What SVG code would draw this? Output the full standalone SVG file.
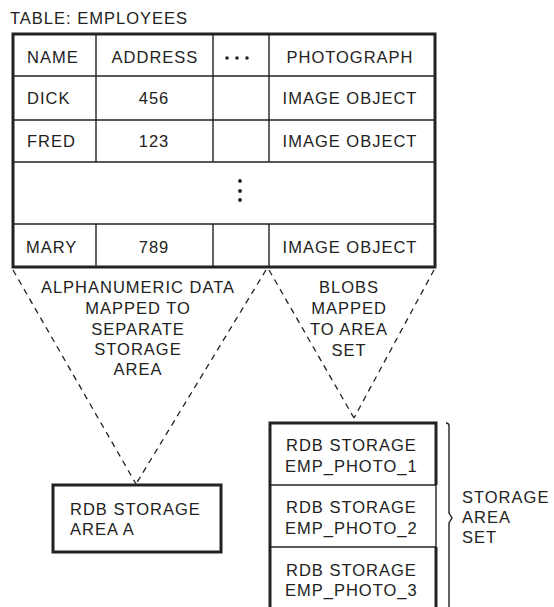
<svg xmlns="http://www.w3.org/2000/svg" width="554" height="607" viewBox="0 0 554 607">
<style>
text{font-family:"Liberation Sans",Arial,sans-serif;font-size:16.5px;fill:#222;letter-spacing:1px}
.c{text-anchor:middle}
.thick{fill:none;stroke:#222;stroke-width:3}
.thin{fill:none;stroke:#222;stroke-width:1.4}
.dash{fill:none;stroke:#222;stroke-width:1.3;stroke-dasharray:6 5}
.dot{fill:#222}
</style>
<rect width="554" height="607" fill="#fff"/>
<text x="10" y="24">TABLE: EMPLOYEES</text>

<g id="table">
  <g class="thin">
    <line x1="13" y1="76" x2="435" y2="76"/>
    <line x1="13" y1="120" x2="435" y2="120"/>
    <line x1="13" y1="162" x2="435" y2="162"/>
    <line x1="13" y1="224" x2="435" y2="224"/>
    <line x1="96" y1="34" x2="96" y2="162"/>
    <line x1="213" y1="34" x2="213" y2="162"/>
    <line x1="269" y1="34" x2="269" y2="162"/>
    <line x1="96" y1="224" x2="96" y2="267"/>
    <line x1="213" y1="224" x2="213" y2="267"/>
    <line x1="269" y1="224" x2="269" y2="267"/>
  </g>
  <rect class="thick" x="13" y="34" width="422" height="233"/>
  <text x="27" y="63">NAME</text>
  <text class="c" x="155" y="63">ADDRESS</text>
  <circle class="dot" cx="227" cy="58" r="1.8"/>
  <circle class="dot" cx="237" cy="58" r="1.8"/>
  <circle class="dot" cx="247" cy="58" r="1.8"/>
  <text class="c" x="350" y="63">PHOTOGRAPH</text>
  <text x="27" y="104">DICK</text>
  <text class="c" x="154" y="104">456</text>
  <text class="c" x="350" y="104">IMAGE OBJECT</text>
  <text x="27" y="147">FRED</text>
  <text class="c" x="154" y="147">123</text>
  <text class="c" x="350" y="147">IMAGE OBJECT</text>
  <circle class="dot" cx="240" cy="181" r="1.9"/>
  <circle class="dot" cx="240" cy="191" r="1.9"/>
  <circle class="dot" cx="240" cy="200" r="1.9"/>
  <text x="26" y="253">MARY</text>
  <text class="c" x="154" y="253">789</text>
  <text class="c" x="350" y="253">IMAGE OBJECT</text>
</g>

<g id="connectors">
  <line class="dash" x1="13" y1="270" x2="136" y2="484"/>
  <line class="dash" x1="266" y1="270" x2="136" y2="484"/>
  <line class="dash" x1="269" y1="270" x2="354" y2="418"/>
  <line class="dash" x1="434" y1="270" x2="354" y2="418"/>
</g>

<g id="label-alpha">
  <text class="c" x="138" y="293">ALPHANUMERIC DATA</text>
  <text class="c" x="138" y="314">MAPPED TO</text>
  <text class="c" x="138" y="335">SEPARATE</text>
  <text class="c" x="138" y="355">STORAGE</text>
  <text class="c" x="138" y="375">AREA</text>
</g>

<g id="label-blobs">
  <text class="c" x="349" y="293">BLOBS</text>
  <text class="c" x="349" y="314">MAPPED</text>
  <text class="c" x="349" y="335">TO AREA</text>
  <text class="c" x="349" y="356">SET</text>
</g>

<g id="area-a">
  <rect class="thick" x="53" y="485" width="168" height="67"/>
  <text x="70" y="515">RDB STORAGE</text>
  <text x="70" y="535">AREA A</text>
</g>

<g id="photo-1">
  <path class="thick" d="M270,607 V423 H436 V485"/>
  <text x="286" y="451">RDB STORAGE</text>
  <text x="285" y="472">EMP_PHOTO_1</text>
</g>
<g id="photo-2">
  <line class="thin" x1="270" y1="485" x2="436" y2="485"/>
  <line class="thin" x1="436" y1="485" x2="436" y2="547"/>
  <text x="286" y="513">RDB STORAGE</text>
  <text x="285" y="534">EMP_PHOTO_2</text>
</g>
<g id="photo-3">
  <line class="thin" x1="270" y1="547" x2="436" y2="547"/>
  <line class="thick" x1="436" y1="547" x2="436" y2="607"/>
  <text x="286" y="576">RDB STORAGE</text>
  <text x="285" y="596">EMP_PHOTO_3</text>
</g>

<g id="brace">
  <path class="thin" d="M446,423 Q449,423 449,426 V513 L452,518 L449,523 V607"/>
  <text x="462" y="503">STORAGE</text>
  <text x="462" y="523">AREA</text>
  <text x="462" y="543">SET</text>
</g>
</svg>
